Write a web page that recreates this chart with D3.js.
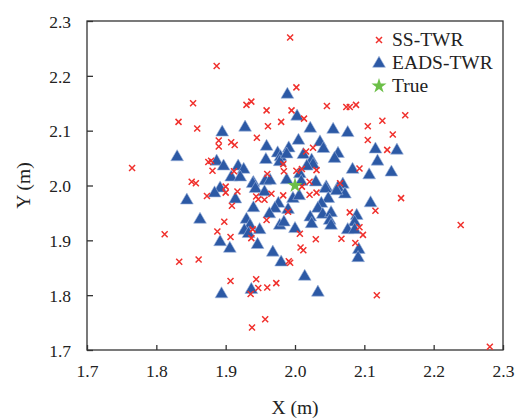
<!DOCTYPE html>
<html>
<head>
<meta charset="utf-8">
<script src="https://cdn.jsdelivr.net/npm/d3@7"></script>
<style>
  body { margin: 0; background: #fff; }
  text { font-family: "Liberation Serif", "Times New Roman", serif; fill: #222; }
</style>
</head>
<body>
<div id="chart"></div>
<script>
// SS-TWR estimates [x, y]
const ssTwr = [
  [1.887, 2.218], [1.853, 2.150], [1.832, 2.116], [1.859, 2.104], [1.765, 2.032],
  [1.930, 2.147], [1.937, 2.153], [1.959, 2.137], [1.961, 2.108], [1.980, 2.116],
  [1.890, 2.082], [1.890, 2.071], [1.908, 2.079], [1.913, 2.074], [1.945, 2.087],
  [1.875, 2.043], [1.879, 2.045], [1.881, 2.027], [1.912, 2.026], [1.960, 2.021],
  [1.984, 2.026], [1.851, 2.007], [1.857, 2.004], [1.900, 1.998], [1.993, 2.270],
  [2.002, 2.179], [1.995, 2.137], [2.013, 2.122], [2.046, 2.145], [2.074, 2.143],
  [2.079, 2.143], [2.088, 2.147], [2.126, 2.118], [2.159, 2.128], [2.105, 2.108],
  [2.141, 2.093], [2.105, 2.083], [2.133, 2.065], [2.026, 2.069], [2.016, 2.062],
  [1.983, 2.039], [2.002, 2.027], [2.010, 2.030], [2.031, 2.028], [2.093, 2.031],
  [2.021, 2.007], [2.065, 2.004], [2.010, 1.998], [2.153, 1.977], [2.239, 1.928],
  [2.116, 1.954], [2.079, 1.951], [2.093, 1.924], [2.098, 1.910], [2.087, 1.895],
  [2.067, 1.903], [2.030, 1.902], [2.007, 1.912], [2.008, 1.887], [2.012, 1.882],
  [1.991, 1.862], [1.993, 1.859], [1.973, 1.822], [2.118, 1.800], [2.281, 1.706],
  [1.966, 1.985], [1.983, 1.982], [2.021, 1.983], [2.031, 1.987], [1.990, 1.952],
  [1.873, 1.981], [1.900, 1.987], [1.917, 1.989], [1.909, 1.963], [1.944, 1.980],
  [1.947, 1.975], [1.956, 1.974], [1.959, 1.937], [1.898, 1.934], [1.888, 1.916],
  [1.907, 1.906], [1.937, 1.904], [1.939, 1.920], [1.812, 1.911], [1.833, 1.861],
  [1.861, 1.865], [1.907, 1.826], [1.944, 1.829], [1.947, 1.813], [1.960, 1.814],
  [1.936, 1.802], [1.957, 1.756], [1.938, 1.741]
];

// EADS-TWR estimates [x, y]
const eadsTwr = [
  [1.830, 2.053], [1.895, 2.098], [1.928, 2.107], [1.959, 2.072], [1.958, 2.048],
  [1.975, 2.060], [1.979, 2.053], [1.978, 2.044], [1.887, 2.045], [1.897, 2.036],
  [1.918, 2.036], [1.926, 2.030], [1.908, 2.016], [1.921, 2.016], [1.940, 2.006],
  [1.957, 2.009], [1.964, 2.010], [1.989, 2.167], [1.892, 1.996], [2.003, 2.127],
  [2.022, 2.105], [2.055, 2.103], [2.076, 2.097], [2.005, 2.083], [2.036, 2.080],
  [2.041, 2.068], [1.991, 2.069], [1.988, 2.058], [2.012, 2.057], [2.062, 2.059],
  [2.057, 2.050], [2.024, 2.047], [2.026, 2.039], [2.017, 2.036], [2.116, 2.067],
  [2.147, 2.065], [2.119, 2.045], [2.083, 2.030], [2.107, 2.020], [2.139, 2.025],
  [2.007, 2.022], [1.988, 2.011], [2.030, 2.007], [2.045, 1.998], [2.069, 2.003],
  [2.062, 1.997], [2.109, 1.969], [2.089, 1.946], [2.086, 1.934], [2.076, 1.920],
  [2.086, 1.920], [2.092, 1.884], [2.091, 1.869], [2.072, 1.985], [2.060, 1.991],
  [2.044, 1.995], [2.048, 1.977], [2.038, 1.968], [2.033, 1.959], [2.040, 1.948],
  [2.052, 1.951], [2.050, 1.937], [2.052, 1.928], [2.022, 1.943], [2.024, 1.931],
  [1.997, 1.977], [2.006, 1.982], [1.976, 1.968], [1.971, 1.959], [1.990, 1.957],
  [1.978, 1.928], [1.984, 1.934], [2.000, 1.922], [1.968, 1.879], [1.980, 1.861],
  [2.014, 1.835], [2.033, 1.806], [1.963, 1.949], [1.844, 1.974], [1.863, 1.939],
  [1.884, 1.987], [1.914, 1.976], [1.940, 1.960], [1.930, 1.939], [1.935, 1.928],
  [1.927, 1.919], [1.933, 1.913], [1.949, 1.920], [1.946, 1.893], [1.892, 1.898],
  [1.906, 1.886], [1.894, 1.803], [1.937, 1.811], [1.939, 2.004], [1.943, 1.995],
  [1.956, 1.989], [2.009, 2.008]
];

const truePos = [[2.0, 2.0]];

const xTicks = [1.7, 1.8, 1.9, 2.0, 2.1, 2.2, 2.3];
const yTicks = [1.7, 1.8, 1.9, 2.0, 2.1, 2.2, 2.3];

const seriesNames = ["SS-TWR", "EADS-TWR", "True"];

const width = 516, height = 419;
const margin = { top: 21, right: 13, bottom: 69, left: 87 };
const w = width - margin.left - margin.right;
const h = height - margin.top - margin.bottom;

const red = "#f0302c", blue = "#2c59a5", green = "#6cbf48";

const svg = d3.select("#chart").append("svg")
  .attr("width", width)
  .attr("height", height);

const g = svg.append("g")
  .attr("transform", `translate(${margin.left},${margin.top})`);

const x = d3.scaleLinear().domain([1.7, 2.3]).range([0, w]);
const y = d3.scaleLinear().domain([1.7, 2.3]).range([h, 0]);

// axes, ticks pointing inward
const xAxis = g.append("g")
  .attr("transform", `translate(0,${h})`)
  .call(d3.axisBottom(x).tickValues(xTicks).tickFormat(d3.format(".1f")).tickSizeInner(-5).tickSizeOuter(0).tickPadding(15));
const yAxis = g.append("g")
  .call(d3.axisLeft(y).tickValues(yTicks).tickFormat(d3.format(".1f")).tickSizeInner(-6).tickSizeOuter(0).tickPadding(16));

[xAxis, yAxis].forEach(a => {
  a.select(".domain").remove();
  a.selectAll("line").attr("stroke", "#333").attr("stroke-width", 1.3);
  a.selectAll("text")
    .style("font-family", "'Liberation Serif', serif")
    .style("font-size", "17.5px")
    .attr("fill", "#222");
});
yAxis.selectAll("text").attr("dy", "0.36em");

// frame
g.append("rect")
  .attr("x", 0).attr("y", 0)
  .attr("width", w).attr("height", h)
  .attr("fill", "none")
  .attr("stroke", "#333")
  .attr("stroke-width", 1.3);

// axis titles
svg.append("text")
  .attr("x", margin.left + w / 2)
  .attr("y", 414)
  .attr("text-anchor", "middle")
  .style("font-size", "19.5px")
  .text("X (m)");

svg.append("text")
  .attr("transform", `translate(30,${margin.top + h / 2}) rotate(-90)`)
  .attr("text-anchor", "middle")
  .style("font-size", "19.5px")
  .text("Y (m)");

// marker shapes
const crossPath = "M-3,-3L3,3M-3,3L3,-3";
const triPath = "M0,-6.8L6.4,4.3L-6.4,4.3Z";
const starPath = d3.symbol().type(d3.symbolStar).size(70)();

const plot = g.append("g");

plot.selectAll(".tri")
  .data(eadsTwr)
  .enter().append("path")
  .attr("class", "tri")
  .attr("d", triPath)
  .attr("transform", d => `translate(${x(d[0])},${y(d[1])})`)
  .attr("fill", blue)
  .attr("stroke", "#9fb6dc")
  .attr("stroke-width", 0.6);

plot.selectAll(".cross")
  .data(ssTwr)
  .enter().append("path")
  .attr("class", "cross")
  .attr("d", crossPath)
  .attr("transform", d => `translate(${x(d[0])},${y(d[1])})`)
  .attr("fill", "none")
  .attr("stroke", red)
  .attr("stroke-width", 1.5);

plot.selectAll(".star")
  .data(truePos)
  .enter().append("path")
  .attr("class", "star")
  .attr("d", starPath)
  .attr("transform", d => `translate(${x(d[0])},${y(d[1])})`)
  .attr("fill", green);

// legend
const legend = svg.append("g").attr("transform", "translate(379,40)");
const legendShapes = [
  { d: crossPath, fill: "none", stroke: red },
  { d: triPath, fill: blue, stroke: "#9fb6dc" },
  { d: starPath, fill: green, stroke: "none" }
];
seriesNames.forEach((name, i) => {
  const item = legend.append("g").attr("transform", `translate(0,${i * 23})`);
  item.append("path")
    .attr("d", legendShapes[i].d)
    .attr("fill", legendShapes[i].fill)
    .attr("stroke", legendShapes[i].stroke)
    .attr("stroke-width", i === 0 ? 1.5 : 0.6);
  item.append("text")
    .attr("x", 13)
    .attr("y", 6)
    .style("font-size", "19.5px")
    .text(name);
});
</script>
</body>
</html>
